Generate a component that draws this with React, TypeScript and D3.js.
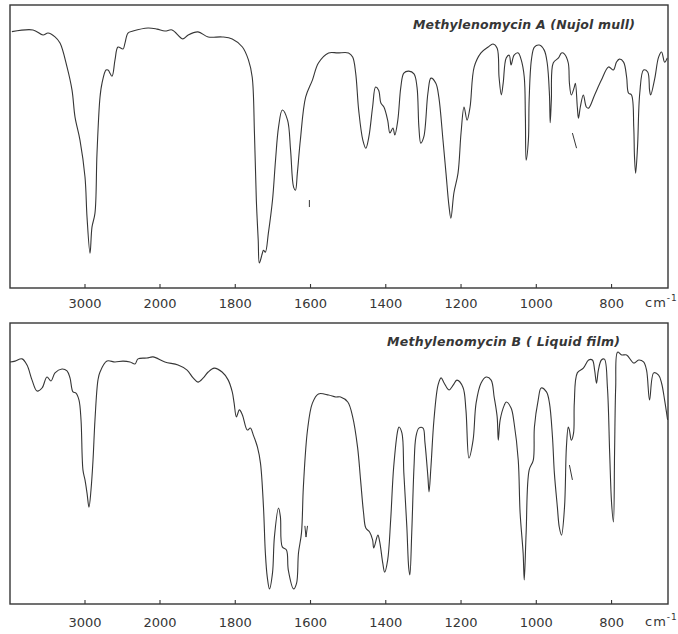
import React from "react";
import * as d3 from "d3";

// Wavenumber ticks (cm-1) shared by both spectra
const tickValues = [3000, 2000, 1800, 1600, 1400, 1200, 1000, 800];
const tickLabels = ["3000", "2000", "1800", "1600", "1400", "1200", "1000", "800"];

const titleA = "Methylenomycin A (Nujol mull)";
const titleB = "Methylenomycin B ( Liquid film)";
const unitLabel = "cm";
const unitExp = "-1";

// Methylenomycin A (Nujol mull): wavenumber (cm-1) and transmittance (%)
const wnA = [
  3975, 3693, 3560, 3493, 3400, 3333, 3240, 3173, 3133, 3067,
  3000, 2973, 2933, 2907, 2867, 2840, 2800, 2773, 2720, 2693,
  2640, 2600, 2560, 2493, 2467, 2427, 2360, 2160, 2040, 1987,
  1968, 1939, 1925, 1899, 1872, 1835, 1808, 1781, 1765, 1755,
  1749, 1744, 1739, 1736, 1728, 1725, 1720, 1712, 1701, 1693,
  1685, 1675, 1661, 1653, 1645, 1640, 1635, 1627, 1613, 1595,
  1579, 1552, 1528, 1499, 1488, 1480, 1472, 1461, 1453, 1445,
  1435, 1427, 1419, 1413, 1405, 1395, 1389, 1381, 1376, 1368,
  1360, 1352, 1339, 1325, 1317, 1312, 1307, 1299, 1288, 1280,
  1267, 1259, 1248, 1240, 1232, 1227, 1219, 1208, 1200, 1192,
  1184, 1176, 1165, 1147, 1128, 1115, 1104, 1099, 1093, 1088,
  1080, 1072, 1067, 1059, 1048, 1040, 1032, 1029, 1027, 1021,
  1019, 1013, 1005, 992, 979, 971, 965, 963, 960, 955,
  941, 933, 925, 915, 912, 907, 899, 896, 891, 888,
  883, 875, 867, 861, 845, 827, 808, 795, 787, 779,
  768, 760, 755, 747, 741, 739, 736, 731, 725, 715,
  704, 699, 696, 685, 675, 667, 659, 652,
];
const tA = [
  90.5, 91.1, 89.3, 90.0, 88.6, 86.4, 77.9, 69.6, 60.0, 51.8,
  38.6, 24.3, 11.4, 20.7, 25.7, 47.1, 67.1, 72.1, 76.8, 76.8,
  74.6, 80.4, 85.0, 84.3, 86.4, 90.0, 90.7, 91.8, 91.4, 90.7,
  91.1, 87.9, 89.3, 90.4, 88.6, 88.6, 87.9, 85.0, 80.4, 74.3,
  54.3, 30.4, 16.1, 7.9, 11.4, 12.5, 11.8, 18.6, 30.4, 44.6,
  56.4, 62.5, 58.9, 48.2, 35.0, 33.9, 40.0, 51.8, 67.1, 73.2,
  79.3, 82.9, 82.9, 82.9, 81.4, 75.7, 62.5, 51.8, 48.9, 52.9,
  63.6, 70.7, 69.6, 65.0, 63.6, 58.9, 54.3, 56.1, 53.6, 58.9,
  70.7, 75.7, 76.4, 75.4, 70.7, 56.4, 50.7, 52.9, 68.6, 73.9,
  72.1, 67.1, 51.8, 40.0, 28.2, 23.9, 32.9, 40.0, 54.3, 63.6,
  58.9, 63.6, 77.9, 82.9, 85.0, 86.1, 84.6, 74.3, 67.9, 72.1,
  81.1, 82.1, 78.6, 82.1, 82.9, 80.4, 74.3, 60.0, 44.6, 51.8,
  66.1, 80.4, 85.0, 85.7, 83.9, 79.3, 67.9, 58.0, 66.1, 79.3,
  81.1, 82.9, 82.5, 79.3, 72.1, 67.9, 70.7, 72.1, 63.6, 59.6,
  63.6, 67.9, 63.6, 63.2, 67.9, 73.2, 77.9, 76.8, 79.6, 80.7,
  79.6, 74.3, 68.6, 67.9, 56.4, 45.7, 40.0, 49.3, 68.6, 76.8,
  76.1, 69.6, 67.9, 73.9, 81.4, 83.2, 79.6, 81.1,
];
// stray pen marks on spectrum A
const markAwn = [[1603, 1603], [904, 893]];
const markAt = [[30.4, 27.9], [54.3, 48.9]];

// Methylenomycin B (Liquid film)
const wnB = [
  4000, 3933, 3840, 3773, 3707, 3640, 3573, 3507, 3453, 3400,
  3307, 3240, 3200, 3160, 3120, 3080, 3053, 3027, 3000, 2973,
  2947, 2920, 2893, 2867, 2827, 2800, 2707, 2600, 2493, 2400,
  2333, 2293, 2173, 2093, 1987, 1952, 1928, 1912, 1899, 1885,
  1872, 1856, 1835, 1819, 1808, 1803, 1797, 1789, 1781, 1768,
  1760, 1752, 1741, 1733, 1725, 1720, 1715, 1709, 1701, 1696,
  1685, 1680, 1675, 1664, 1659, 1645, 1637, 1632, 1624, 1619,
  1608, 1595, 1579, 1552, 1533, 1520, 1501, 1488, 1475, 1467,
  1459, 1453, 1443, 1435, 1432, 1421, 1416, 1408, 1403, 1395,
  1387, 1379, 1368, 1365, 1357, 1352, 1344, 1339, 1336, 1331,
  1325, 1320, 1312, 1301, 1296, 1288, 1285, 1280, 1272, 1261,
  1253, 1245, 1232, 1221, 1211, 1195, 1187, 1179, 1168, 1160,
  1147, 1133, 1120, 1112, 1104, 1101, 1096, 1085, 1080, 1067,
  1059, 1048, 1043, 1035, 1032, 1027, 1019, 1008, 1005, 995,
  987, 973, 965, 957, 952, 944, 939, 933, 925, 920,
  915, 912, 907, 901, 899, 891, 875, 861, 851, 845,
  840, 835, 827, 819, 811, 805, 800, 795, 792, 789,
  784, 773, 760, 741, 728, 715, 707, 699, 688, 675,
  667, 659, 651,
];
const tB = [
  86.1, 86.4, 87.2, 85.0, 79.7, 75.7, 76.8, 80.7, 79.3, 82.2,
  83.6, 82.9, 80.4, 75.4, 75.0, 72.5, 65.4, 47.5, 44.0, 39.3,
  34.3, 40.4, 51.1, 65.4, 79.7, 82.5, 86.4, 86.1, 86.4, 86.1,
  85.4, 87.2, 87.5, 87.9, 86.1, 85.0, 83.2, 80.4, 78.9, 80.4,
  82.5, 83.9, 82.5, 79.7, 75.4, 71.4, 66.5, 69.0, 67.2, 61.8,
  62.5, 60.0, 55.7, 50.0, 34.3, 17.9, 9.4, 5.1, 10.8, 23.6,
  34.0, 30.8, 20.1, 19.0, 11.8, 5.1, 7.2, 17.9, 25.1, 41.5,
  61.8, 71.4, 74.7, 74.3, 73.6, 73.6, 71.8, 66.5, 55.7, 44.0,
  32.2, 26.8, 25.4, 22.6, 19.7, 24.3, 21.8, 14.3, 11.1, 15.4,
  29.7, 48.6, 61.8, 62.9, 60.7, 46.5, 27.2, 12.6, 10.1, 25.1,
  48.6, 59.3, 62.5, 62.5, 57.5, 45.0, 39.7, 48.6, 65.4, 77.9,
  80.4, 78.6, 76.1, 77.8, 79.6, 77.1, 69.0, 51.8, 58.2, 71.4,
  78.5, 80.7, 79.6, 73.6, 66.5, 58.2, 65.4, 70.7, 71.8, 69.7,
  64.3, 51.1, 32.2, 17.9, 8.3, 25.1, 47.5, 51.1, 62.9, 72.5,
  76.8, 75.4, 71.4, 59.3, 46.5, 34.3, 27.2, 24.3, 34.3, 55.7,
  62.9, 61.8, 58.2, 60.7, 71.4, 82.2, 83.9, 86.8, 86.8, 83.2,
  78.5, 83.2, 86.8, 87.1, 77.1, 53.6, 35.8, 29.0, 53.6, 77.1,
  89.6, 88.6, 88.6, 85.7, 86.8, 86.1, 83.2, 72.5, 82.2, 81.4,
  78.5, 72.5, 65.4,
];
const markBwn = [[1615, 1612, 1608], [912, 904]];
const markBt = [[27.6, 23.6, 27.6], [49.3, 44.0]];

const INK = "#363636";

function Panel({ wn, t, markWn, markT, title, frameBottom, base, titleX, titleY, titleLen, labelY }: any) {
  const x = d3.scaleLinear().domain([4000, 2000, 650]).range([10, 160, 668]);
  const y = d3.scaleLinear().domain([0, 100]).range([base, base - 280.2]);
  const pts: [number, number][] = wn.map((w: number, i: number) => [w, t[i]]);
  const line = d3
    .line<[number, number]>()
    .x((d) => x(d[0]))
    .y((d) => y(d[1]))
    .curve(d3.curveCatmullRom.alpha(0.5));
  const markLine = d3
    .line<[number, number]>()
    .x((d) => x(d[0]))
    .y((d) => y(d[1]));
  const fTop = y(100);
  const xL = x(4000);
  const xR = x(650);
  return (
    <g>
      <rect x={xL} y={fTop} width={xR - xL} height={frameBottom - fTop} fill="none" stroke={INK} strokeWidth={1.4} />
      {tickValues.map((v, i) => (
        <g key={v}>
          <line x1={x(v)} x2={x(v)} y1={frameBottom} y2={frameBottom - 4} stroke={INK} strokeWidth={1.1} />
          <text
            x={x(v)}
            y={labelY}
            textAnchor="middle"
            fontFamily="DejaVu Sans, sans-serif"
            fontSize={13}
            fill={INK}
          >
            {tickLabels[i]}
          </text>
        </g>
      ))}
      <text x={xR - 23} y={labelY - 1} fontFamily="DejaVu Sans, sans-serif" fontSize={13} fill={INK} letterSpacing={1}>
        {unitLabel}
        <tspan dy={-6} fontSize={9}>{unitExp}</tspan>
      </text>
      <text
        x={titleX}
        y={titleY}
        fontFamily="DejaVu Sans, sans-serif"
        fontSize={12.5}
        fontStyle="italic"
        fontWeight="bold"
        fill={INK}
        textLength={titleLen}
        lengthAdjust="spacing"
      >
        {title}
      </text>
      <path d={line(pts) || ""} fill="none" stroke={INK} strokeWidth={1.1} strokeLinejoin="round" />
      {markWn.map((mw: number[], k: number) => (
        <path
          key={k}
          d={markLine(mw.map((w, j) => [w, markT[k][j]] as [number, number])) || ""}
          fill="none"
          stroke={INK}
          strokeWidth={1}
        />
      ))}
    </g>
  );
}

export default function App() {
  return (
    <svg
      width={678}
      height={634}
      viewBox="0 0 678 634"
      style={{ position: "absolute", left: 0, top: 0, background: "#fff" }}
    >
      <rect x={0} y={0} width={678} height={634} fill="#fff" />
      <Panel
        wn={wnA}
        t={tA}
        markWn={markAwn}
        markT={markAt}
        title={titleA}
        frameBottom={288}
        base={285.2}
        titleX={413}
        titleY={29}
        titleLen={222}
        labelY={308}
      />
      <Panel
        wn={wnB}
        t={tB}
        markWn={markBwn}
        markT={markBt}
        title={titleB}
        frameBottom={604}
        base={603.2}
        titleX={387}
        titleY={346}
        titleLen={233}
        labelY={627}
      />
    </svg>
  );
}
